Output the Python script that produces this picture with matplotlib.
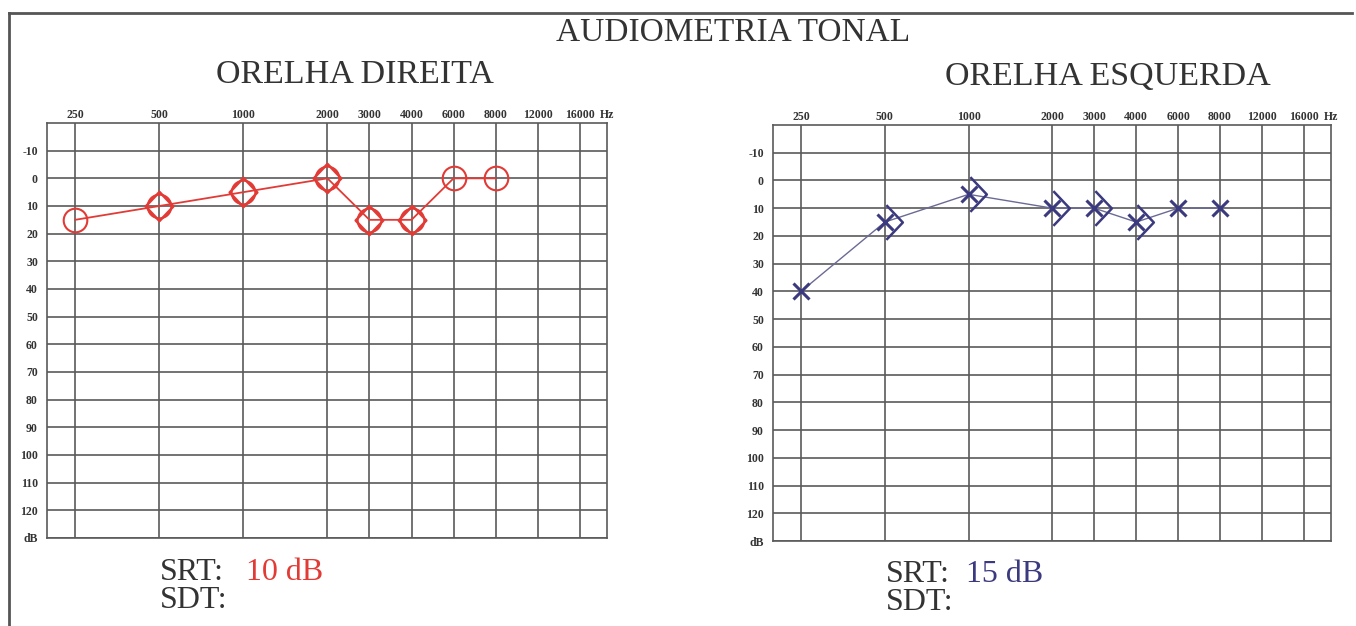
import numpy as np
import matplotlib
matplotlib.use("Agg")
import matplotlib.pyplot as plt
from matplotlib.path import Path
from matplotlib.lines import Line2D

# ---------------- data ----------------
grid_freqs = [250, 500, 1000, 2000, 3000, 4000, 6000, 8000, 12000, 16000]
freq_labels = ["250", "500", "1000", "2000", "3000", "4000", "6000", "8000", "12000", "16000"]
db_ticks = [-10, 0, 10, 20, 30, 40, 50, 60, 70, 80, 90, 100, 110, 120, 130]
db_labels = ["-10", "0", "10", "20", "30", "40", "50", "60", "70", "80", "90", "100", "110", "120", "dB"]

# right ear (red)
right_air_freqs = [250, 500, 1000, 2000, 3000, 4000, 6000, 8000]
right_air_db = [15, 10, 5, 0, 15, 15, 0, 0]
right_bone_freqs = [500, 1000, 2000, 3000, 4000]
right_bone_db = [10, 5, 0, 15, 15]

# left ear (blue)
left_air_freqs = [250, 500, 1000, 2000, 3000, 4000, 6000, 8000]
left_air_db = [40, 15, 5, 10, 10, 15, 10, 10]
left_bone_freqs = [500, 1000, 2000, 3000, 4000]
left_bone_db = [15, 5, 10, 10, 15]

srt_right = "10 dB"
srt_left = "15 dB"

RED = "#e23b36"
BLUE = "#3c3a7e"
GRID = "#5a5a5a"
TXT = "#333333"
SERIF = "Liberation Serif"

# ---------------- audiogram frequency scale ----------------
# octave steps take two columns, intermediate frequencies one column
_lf = np.log2(np.array(grid_freqs, dtype=float))
_slots = np.concatenate([[0.0], np.cumsum([2.0 if abs(b - a - 1) < 1e-9 else 1.0
                                           for a, b in zip(_lf[:-1], _lf[1:])])])


def fwd(f):
    f = np.asarray(f, dtype=float)
    lf = np.log2(np.clip(f, 1e-6, None))
    out = np.interp(lf, _lf, _slots)
    s0 = (_slots[1] - _slots[0]) / (_lf[1] - _lf[0])
    s1 = (_slots[-1] - _slots[-2]) / (_lf[-1] - _lf[-2])
    out = np.where(lf < _lf[0], _slots[0] + (lf - _lf[0]) * s0, out)
    out = np.where(lf > _lf[-1], _slots[-1] + (lf - _lf[-1]) * s1, out)
    return out


def inv(p):
    p = np.asarray(p, dtype=float)
    lf = np.interp(p, _slots, _lf)
    s0 = (_lf[1] - _lf[0]) / (_slots[1] - _slots[0])
    s1 = (_lf[-1] - _lf[-2]) / (_slots[-1] - _slots[-2])
    lf = np.where(p < _slots[0], _lf[0] + (p - _slots[0]) * s0, lf)
    lf = np.where(p > _slots[-1], _lf[-1] + (p - _slots[-1]) * s1, lf)
    return 2.0 ** lf


# custom bracket markers
diamond_marker = Path([(0.0, 1.0), (-0.95, 0.0), (0.0, -1.0), (0.95, 0.0), (0.0, 1.0)],
                      [Path.MOVETO, Path.LINETO, Path.LINETO, Path.LINETO, Path.CLOSEPOLY])
gt_marker = Path([(0.05, 1.0), (1.0, 0.0), (0.05, -1.0)],
                 [Path.MOVETO, Path.LINETO, Path.LINETO])

fig = plt.figure(figsize=(13.56, 6.26), dpi=100)
fig.patch.set_facecolor("white")

W, H = 1356.0, 626.0
axL = fig.add_axes([47 / W, 1 - 538 / H, 560 / W, 415 / H])
axR = fig.add_axes([773 / W, 1 - 541 / H, 558 / W, 416 / H])


def style_axes(ax):
    ax.set_xscale("function", functions=(fwd, inv))
    ax.set_xlim(float(inv(-0.67)), float(inv(12.65)))
    ax.set_ylim(130, -20)
    ax.set_xticks(grid_freqs)
    ax.set_xticklabels(freq_labels)
    ax.xaxis.set_minor_locator(matplotlib.ticker.NullLocator())
    ax.set_yticks(db_ticks)
    ax.set_yticklabels(db_labels)
    ax.xaxis.tick_top()
    ax.tick_params(axis="both", length=0, labelsize=8.5, labelcolor=TXT)
    ax.tick_params(axis="x", pad=1.5)
    ax.tick_params(axis="y", pad=6.5)
    for lab in ax.get_xticklabels() + ax.get_yticklabels():
        lab.set_fontfamily(SERIF)
        lab.set_fontweight("bold")
    ax.grid(True, color=GRID, lw=1.2)
    ax.set_axisbelow(True)
    for sp in ax.spines.values():
        sp.set_color(GRID)
        sp.set_linewidth(1.2)
    ax.annotate("Hz", xy=(1.0, 1.0), xycoords="axes fraction", xytext=(-5, 1.5),
                textcoords="offset points", ha="left", va="bottom",
                fontsize=8.5, fontweight="bold", family=SERIF, color=TXT)


style_axes(axL)
style_axes(axR)

# right ear
axL.plot(right_air_freqs, right_air_db, color=RED, lw=1.3, marker="o", ms=17,
         mfc="none", mec=RED, mew=1.5, zorder=3)
axL.plot(right_bone_freqs, right_bone_db, ls="none", marker=diamond_marker, ms=21,
         mfc="none", mec=RED, mew=1.8, zorder=4)

# left ear
axR.plot(left_air_freqs, left_air_db, color="#6a6a95", lw=1.0, marker="x", ms=12,
         mec=BLUE, mew=2.2, zorder=3)
axR.plot(left_bone_freqs, left_bone_db, ls="none", marker=gt_marker, ms=25,
         mfc="none", mec=BLUE, mew=1.8, zorder=4)

# texts
fig.text(733 / W, 1 - 33 / H, "AUDIOMETRIA TONAL", ha="center", va="center",
         fontsize=24, family=SERIF, color=TXT)
fig.text(355 / W, 1 - 75 / H, "ORELHA DIREITA", ha="center", va="center",
         fontsize=24.5, family=SERIF, color=TXT)
fig.text(1108 / W, 1 - 77 / H, "ORELHA ESQUERDA", ha="center", va="center",
         fontsize=24.5, family=SERIF, color=TXT)

fig.text(160 / W, 1 - 580 / H, "SRT:", ha="left", va="baseline", fontsize=23, family=SERIF, color=TXT)
fig.text(246 / W, 1 - 580 / H, srt_right, ha="left", va="baseline", fontsize=23, family=SERIF, color=RED)
fig.text(160 / W, 1 - 608 / H, "SDT:", ha="left", va="baseline", fontsize=23, family=SERIF, color=TXT)

fig.text(886 / W, 1 - 582 / H, "SRT:", ha="left", va="baseline", fontsize=23, family=SERIF, color=TXT)
fig.text(966 / W, 1 - 582 / H, srt_left, ha="left", va="baseline", fontsize=23, family=SERIF, color=BLUE)
fig.text(886 / W, 1 - 610 / H, "SDT:", ha="left", va="baseline", fontsize=23, family=SERIF, color=TXT)

# outer frame of the scanned sheet
fig.add_artist(Line2D([9 / W, 9 / W], [0, 1 - 13 / H], transform=fig.transFigure, color="#555555", lw=2))
fig.add_artist(Line2D([9 / W, 1352 / W], [1 - 13 / H, 1 - 13 / H], transform=fig.transFigure, color="#555555", lw=2))

fig.savefig("out.png", dpi=100, facecolor="white")
